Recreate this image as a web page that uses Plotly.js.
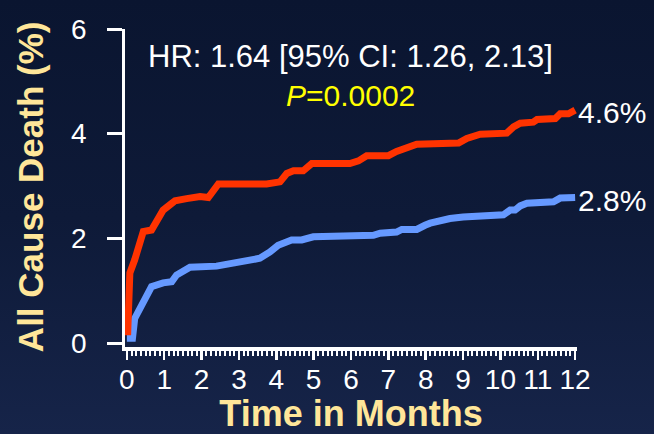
<!DOCTYPE html>
<html>
<head>
<meta charset="utf-8">
<script src="https://cdn.plot.ly/plotly-3.0.1.min.js"></script>
<style>
  html, body { margin:0; padding:0; width:654px; height:434px; overflow:hidden;
    background: linear-gradient(to bottom, #0a1530 0%, #0e1a38 50%, #162449 100%); }
  #chart { width:654px; height:434px; }
</style>
</head>
<body>
<div id="chart"></div>
<script>
// Months since randomisation and cumulative all-cause death (%)
const monthsRed = [0.02, 0.08, 0.21, 0.44, 0.66, 0.79, 0.97, 1.15, 1.29, 1.6, 1.96, 2.18, 2.45, 3.74, 3.96, 4.1, 4.28, 4.46, 4.72, 4.95, 5.97, 6.2, 6.42, 7.0, 7.22, 7.49, 7.76, 8.88, 9.1, 9.46, 10.17, 10.35, 10.53, 10.88, 10.98, 11.47, 11.6, 11.82, 12.0];
const deathRed  = [0.15, 1.34, 1.59, 2.13, 2.16, 2.32, 2.54, 2.64, 2.72, 2.76, 2.80, 2.78, 3.04, 3.04, 3.08, 3.08, 3.24, 3.29, 3.29, 3.43, 3.43, 3.48, 3.58, 3.58, 3.66, 3.72, 3.80, 3.82, 3.91, 3.99, 4.01, 4.13, 4.20, 4.22, 4.27, 4.29, 4.38, 4.38, 4.45];

const monthsBlue = [0, 0.15, 0.21, 0.35, 0.53, 0.66, 0.97, 1.2, 1.33, 1.47, 1.69, 2.4, 2.85, 3.2, 3.56, 3.83, 4.05, 4.41, 4.68, 4.99, 5.66, 5.75, 6.15, 6.6, 6.78, 7.22, 7.36, 7.76, 7.98, 8.12, 8.65, 9.0, 10.08, 10.26, 10.39, 10.53, 10.71, 11.24, 11.42, 11.6, 12.0];
const deathBlue  = [0.09, 0.09, 0.47, 0.66, 0.95, 1.08, 1.15, 1.17, 1.30, 1.36, 1.45, 1.47, 1.53, 1.59, 1.62, 1.74, 1.87, 1.97, 1.97, 2.03, 2.03, 2.06, 2.04, 2.06, 2.10, 2.12, 2.17, 2.17, 2.25, 2.29, 2.38, 2.41, 2.45, 2.54, 2.54, 2.62, 2.67, 2.67, 2.70, 2.77, 2.78];

const endLabelRed  = '4.6%';
const endLabelBlue = '2.8%';

const xTickVals = [0,1,2,3,4,5,6,7,8,9,10,11,12];
const xTickText = ['0','1','2','3','4','5','6','7','8','9','10','11','12'];
const yTickVals = [0,2,4,6];
const yTickText = ['0','2','4','6'];
const yRange = [-0.075, 6];

const xTitle = 'Time in Months';
const yTitle = 'All Cause Death (%)';
const hrText = 'HR: 1.64 [95% CI: 1.26, 2.13]';
const pText  = '<i>P</i>=0.0002';

const RED = '#ff3300', BLUE = '#6699ff', TITLE = '#ffe699';
const FONT = 'Liberation Sans, Arial, Helvetica, sans-serif';

const traces = [
  { x: monthsBlue, y: deathBlue, type:'scatter', mode:'lines',
    line:{color:BLUE, width:7}, hoverinfo:'skip' },
  { x: monthsRed, y: deathRed, type:'scatter', mode:'lines',
    line:{color:RED, width:7}, hoverinfo:'skip' }
];

// y tick labels placed further from the axis line, as in the reference
const yLabelAnnotations = yTickVals.map((v, i) => ({
  xref:'paper', yref:'y', x:-0.0796, y:v, text:yTickText[i], showarrow:false,
  xanchor:'right', yanchor:'middle', font:{size:28, color:'white', family:FONT}
}));

const layout = {
  width:654, height:434,
  margin:{l:125, r:77, t:29, b:87, pad:0},
  paper_bgcolor:'rgba(0,0,0,0)', plot_bgcolor:'rgba(0,0,0,0)',
  font:{family:FONT, color:'white'},
  showlegend:false,
  xaxis:{
    range:[-0.05, 12.05], tickmode:'array', tickvals:xTickVals, ticktext:xTickText,
    ticks:'outside', ticklen:9, tickwidth:2.5, tickcolor:'white',
    showline:true, linecolor:'white', linewidth:3.5,
    showgrid:false, zeroline:false,
    tickfont:{size:28, color:'white', family:FONT}, ticklabelstandoff:-4,
    minor:{tickmode:'linear', tick0:0, dtick:0.125, ticks:'outside', ticklen:5, tickwidth:2, tickcolor:'white', showgrid:false},
    title:{text:'<b>' + xTitle + '</b>', font:{size:36, color:TITLE, family:FONT}, standoff:37}
  },
  yaxis:{
    range:yRange, tickmode:'array', tickvals:yTickVals, showticklabels:false,
    ticks:'outside', ticklen:15, tickwidth:3, tickcolor:'white',
    showline:true, linecolor:'white', linewidth:3.5, showgrid:false, zeroline:false
  },
  annotations: yLabelAnnotations.concat([
    { xref:'paper', yref:'paper', x:-0.210, y:0.503, text:'<b>' + yTitle + '</b>', textangle:-90,
      showarrow:false, xanchor:'center', yanchor:'middle', font:{size:35, color:TITLE, family:FONT} },
    { xref:'paper', yref:'paper', x:0.498, y:0.912, text:hrText, showarrow:false,
      xanchor:'center', yanchor:'middle', font:{size:31, color:'white', family:FONT} },
    { xref:'paper', yref:'paper', x:0.498, y:0.792, text:pText, showarrow:false,
      xanchor:'center', yanchor:'middle', font:{size:30, color:'#ffff00', family:FONT} },
    { xref:'x', yref:'y', x:monthsRed[monthsRed.length-1], y:deathRed[deathRed.length-1],
      text:endLabelRed, showarrow:false, xanchor:'left', yanchor:'middle', xshift:1, yshift:-2,
      font:{size:30, color:'white', family:FONT} },
    { xref:'x', yref:'y', x:monthsBlue[monthsBlue.length-1], y:deathBlue[deathBlue.length-1],
      text:endLabelBlue, showarrow:false, xanchor:'left', yanchor:'middle', xshift:1, yshift:-3,
      font:{size:30, color:'white', family:FONT} }
  ])
};

Plotly.newPlot('chart', traces, layout, {displayModeBar:false, staticPlot:true});
</script>
</body>
</html>
